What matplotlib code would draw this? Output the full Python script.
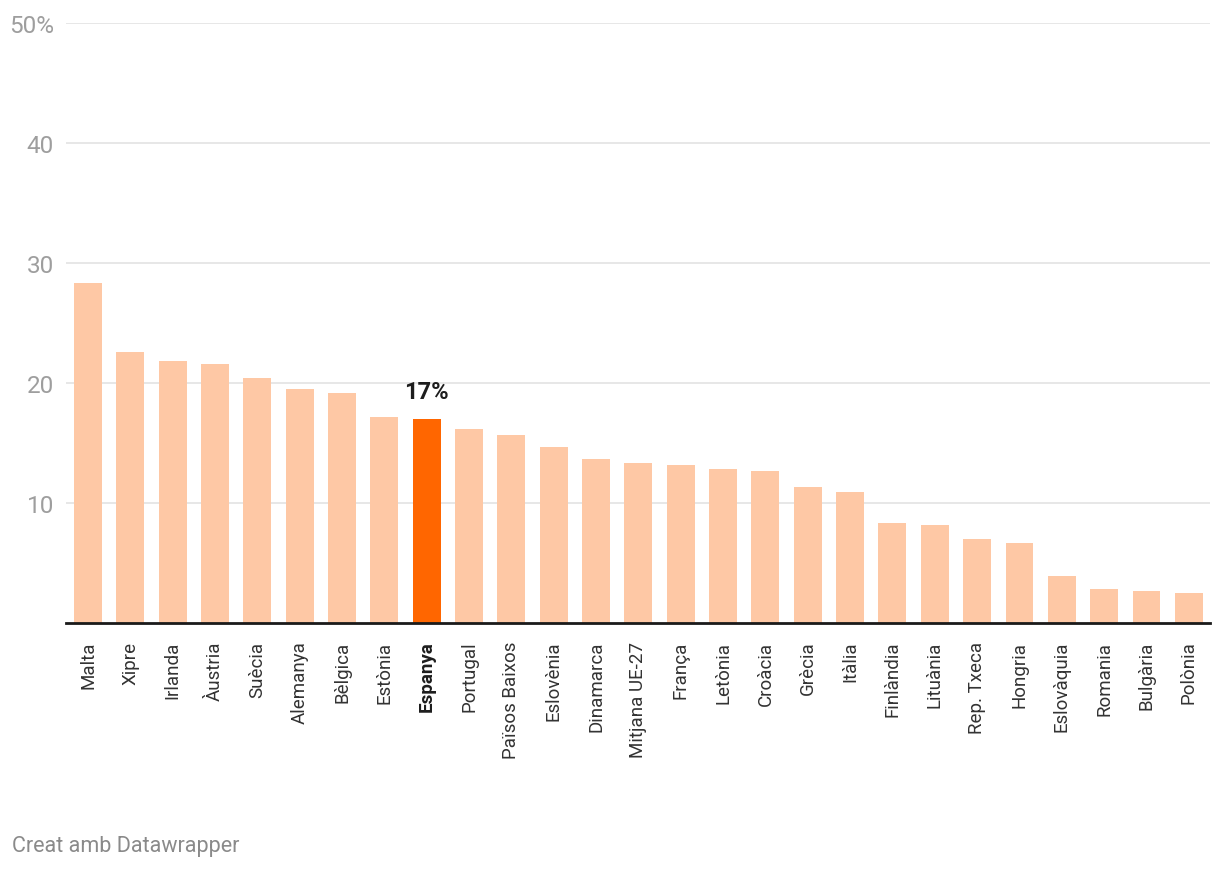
import matplotlib.pyplot as plt
import numpy as np

# 데이터
paisos = ["Malta", "Xipre", "Irlanda", "Àustria", "Suècia", "Alemanya", "Bèlgica",
          "Estònia", "Espanya", "Portugal", "Països Baixos", "Eslovènia", "Dinamarca",
          "Mitjana UE-27", "França", "Letònia", "Croàcia", "Grècia", "Itàlia",
          "Finlàndia", "Lituània", "Rep. Txeca", "Hongria", "Eslovàquia", "Romania",
          "Bulgària", "Polònia"]
valors = [28.3, 22.6, 21.8, 21.6, 20.4, 19.5, 19.1, 17.1, 17.0, 16.1, 15.6, 14.6,
          13.6, 13.3, 13.1, 12.8, 12.6, 11.3, 10.9, 8.3, 8.1, 7.0, 6.6, 3.9, 2.8,
          2.6, 2.5]
destacat = "Espanya"
etiqueta_destacat = "17%"
y_ticks = [10, 20, 30, 40, 50]
y_labels = ["10", "20", "30", "40", "50%"]

plt.rcParams['font.family'] = ['Roboto', 'DejaVu Sans']

fig = plt.figure(figsize=(12.2, 8.7), dpi=100)
ax = fig.add_axes([66 / 1220, 1 - 623.5 / 870, (1210 - 66) / 1220, (623.5 - 24) / 870])

x = np.arange(len(paisos))
colors = ["#ff6600" if p == destacat else "#fec8a5" for p in paisos]
ax.bar(x, valors, width=0.66, color=colors, zorder=2)

# 강조 라벨
i = paisos.index(destacat)
ax.annotate(etiqueta_destacat, (x[i], valors[i]), xytext=(0, 11), textcoords="offset points",
            ha="center", va="bottom", fontsize=17, fontweight="bold", color="#1d1d1d")

ax.set_xlim(-0.52, len(paisos) - 0.5)
ax.set_ylim(0, 50)
ax.set_yticks(y_ticks)
ax.set_yticklabels(y_labels)
ax.tick_params(axis="y", length=0, pad=8.6, labelsize=17.5, labelcolor="#9e9e9e")
ax.yaxis.grid(True, color="#e3e3e3", linewidth=1.2, zorder=0)
ax.set_axisbelow(True)

ax.set_xticks(x)
ax.set_xticklabels(paisos, rotation=90, ha="center", va="top")
ax.tick_params(axis="x", length=0, pad=13, labelsize=13.5, labelcolor="#333333")
for lbl in ax.get_xticklabels():
    if lbl.get_text() == destacat:
        lbl.set_fontweight("bold")
        lbl.set_color("#1d1d1d")

for s in ["top", "right", "left"]:
    ax.spines[s].set_visible(False)
ax.spines["bottom"].set_color("#1a1a1a")
ax.spines["bottom"].set_linewidth(2)
ax.spines["bottom"].set_zorder(3)

fig.text(12 / 1220, 1 - 847 / 870, "Creat amb Datawrapper", fontsize=15.5, color="#8a8a8a",
         ha="left", va="center")

fig.savefig("out.png", dpi=100)
